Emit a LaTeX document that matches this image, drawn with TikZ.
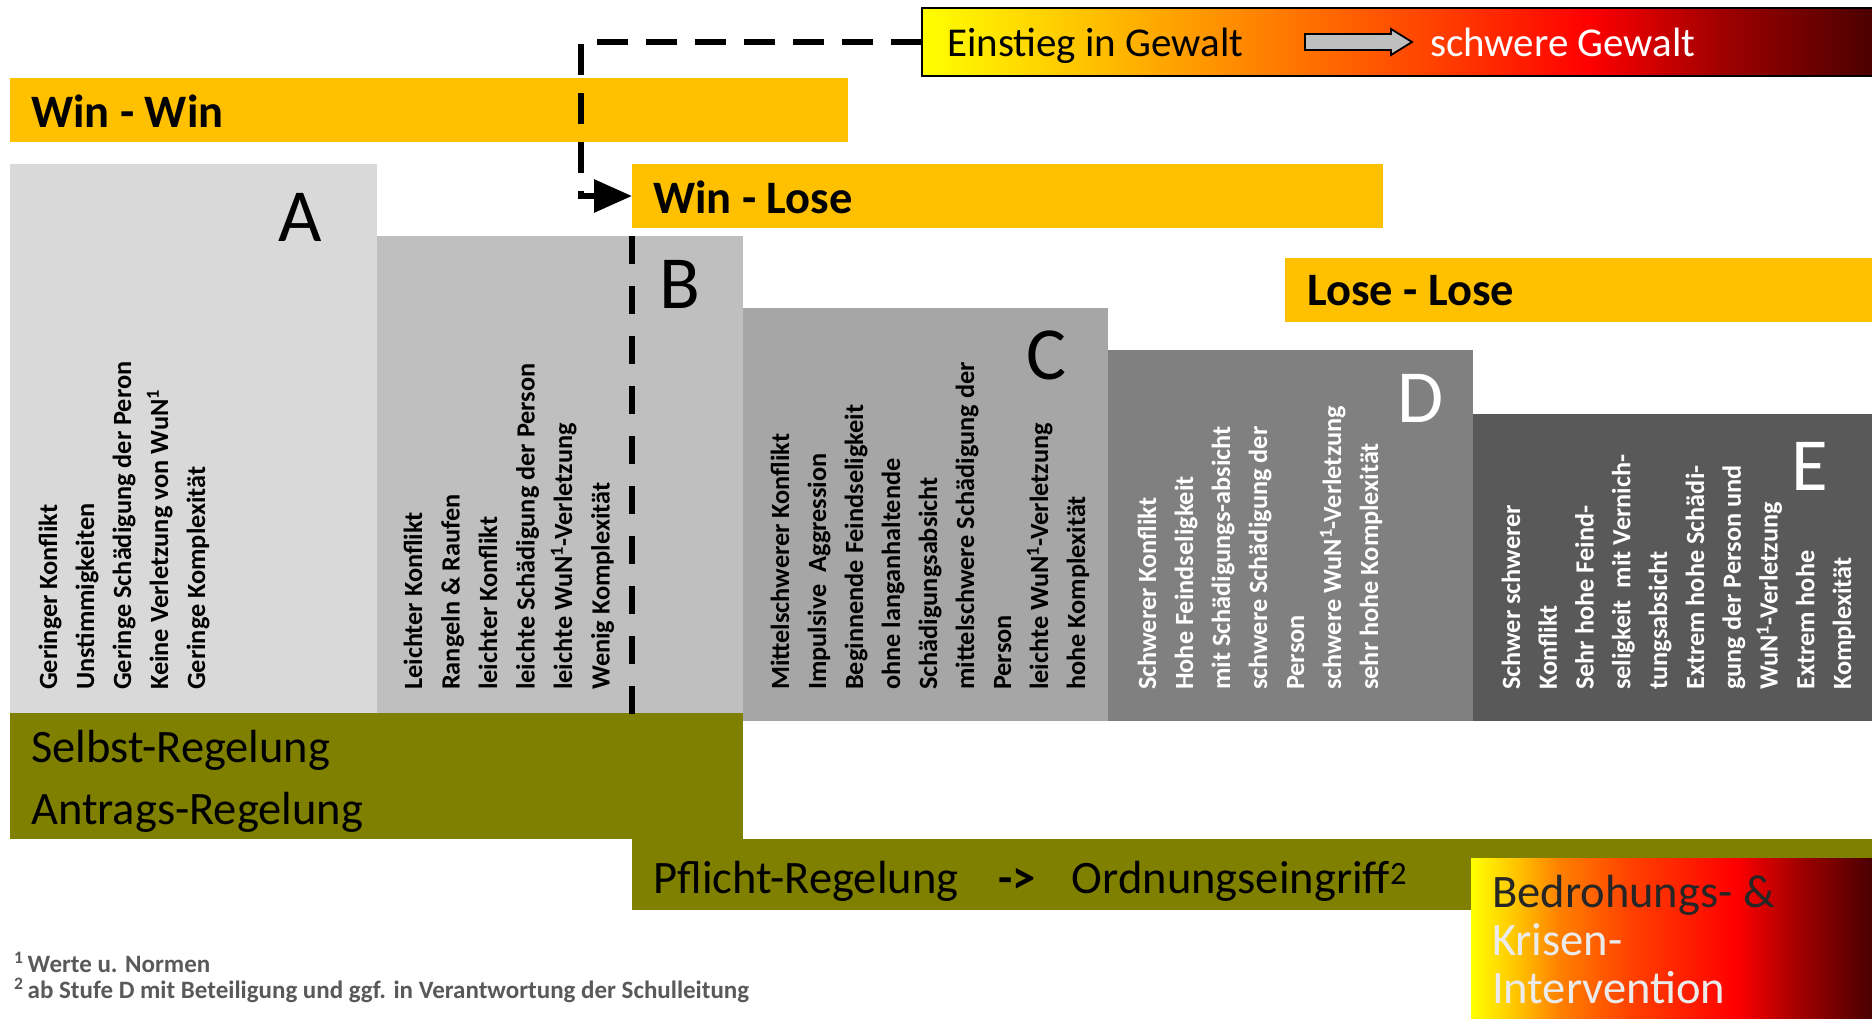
\documentclass[tikz,border=0pt]{standalone}
\usepackage{fontspec}
\setmainfont{Carlito}
\usetikzlibrary{arrows.meta}
\definecolor{gold}{HTML}{FFC000}
\definecolor{olivebar}{HTML}{808000}
\definecolor{gA}{HTML}{D9D9D9}
\definecolor{gB}{HTML}{BFBFBF}
\definecolor{gC}{HTML}{A6A6A6}
\definecolor{gD}{HTML}{808080}
\definecolor{gE}{HTML}{595959}
\definecolor{footgray}{HTML}{595959}
\definecolor{lightgray2}{HTML}{EBEBEB}
\definecolor{vY}{HTML}{FFFF00}
\definecolor{vO1}{HTML}{FFC000}
\definecolor{vO2}{HTML}{FF8000}
\definecolor{vO3}{HTML}{FF4000}
\definecolor{vR}{HTML}{FF0000}
\definecolor{vD1}{HTML}{A00000}
\definecolor{vD2}{HTML}{4A0000}
\pgfdeclarehorizontalshading{violence}{100bp}{color(0bp)=(vY); color(25bp)=(vY); color(34bp)=(vO1); color(43bp)=(vO2); color(52bp)=(vO3); color(60bp)=(vR); color(67bp)=(vD1); color(75bp)=(vD2); color(100bp)=(vD2)}
\pgfdeclarehorizontalshading{crisis}{100bp}{color(0bp)=(vY); color(25bp)=(vY); color(31bp)=(vO1); color(36bp)=(vO2); color(45bp)=(vO3); color(58bp)=(vR); color(66bp)=(vD1); color(75bp)=(vD2); color(100bp)=(vD2)}
\tikzset{
  rectbox/.style={inner sep=0, outer sep=0, anchor=north west},
  goldbar/.style={rectbox, fill=gold},
  olivebox/.style={rectbox, fill=olivebar},
  barlabel/.style={anchor=west, inner sep=0, font=\bfseries\fontsize{46.5}{46.5}\selectfont},
  reglabel/.style={anchor=west, inner sep=0, font=\fontsize{46.5}{46.5}\selectfont},
  crisislabel/.style={anchor=base west, inner sep=0, font=\fontsize{46.5}{46.5}\selectfont},
  violabel/.style={anchor=base west, inner sep=0, font=\fontsize{41}{41}\selectfont},
  letter/.style={inner sep=0, font=\fontsize{75}{75}\selectfont},
  boxtxt/.style={rotate=90, anchor=base west, inner sep=0, font=\bfseries\fontsize{26.3}{37}\selectfont},
  foot/.style={anchor=west, inner sep=0, text=footgray, font=\bfseries\fontsize{25}{25}\selectfont},
  dashone/.style={line width=6pt, dash pattern=on 31pt off 18pt},
  dashtwo/.style={line width=6pt, dash pattern=on 28pt off 22pt},
  grayarrow/.style={draw=black, line width=1.8pt, fill=gB, line join=miter}
}
\begin{document}
\begin{tikzpicture}[x=1pt,y=-1pt]
\useasboundingbox[fill=white] (0,0) rectangle (1872,1018);
% stage boxes
\node[rectbox, fill=gA, minimum width=367, minimum height=560] (bA) at (10,164) {};
\node[rectbox, fill=gB, minimum width=366, minimum height=485] (bB) at (377,236) {};
\node[rectbox, fill=gC, minimum width=365, minimum height=413] (bC) at (743,308) {};
\node[rectbox, fill=gD, minimum width=365, minimum height=371] (bD) at (1108,350) {};
\node[rectbox, fill=gE, minimum width=399, minimum height=307] (bE) at (1473,414) {};
% gold bars
\node[goldbar, minimum width=838, minimum height=64] (ww) at (10,78) {};
\node[goldbar, minimum width=751, minimum height=64] (wl) at (632,164) {};
\node[goldbar, minimum width=587, minimum height=64] (ll) at (1285,258) {};
\node[barlabel] (tww) at (31,111) {Win - Win};
\node[barlabel] (twl) at (653,197) {Win - Lose};
\node[barlabel] (tll) at (1307,291) {Lose - Lose};
% violence gradient box
\node[rectbox, draw=black, line width=1.8pt, shade, shading=violence, minimum width=952, minimum height=68] (ein) at (922,8) {};
\node[violabel] (tein) at (947,56) {Einstieg in Gewalt};
\draw[grayarrow] (1305,34) -- (1391,34) -- (1391,29) -- (1412,42) -- (1391,55) -- (1391,50) -- (1305,50) -- cycle;
\node[violabel, text=white] (tsg) at (1430,56) {schwere Gewalt};
% letters
\node[letter] (lA) at (300,217) {A};
\node[letter] (lB) at (680,284) {B};
\node[letter] (lC) at (1046,355) {C};
\node[letter, text=white] (lD) at (1421,398) {D};
\node[letter, text=white] (lE) at (1810,466) {E};
% box texts
\foreach \t [count=\i from 0] in {Geringer Konflikt, Unstimmigkeiten, Geringe Schädigung der Peron, Keine Verletzung von WuN\textsuperscript{1}, Geringe Komplexität}
  \node[boxtxt] (tA\i) at ({57+37*\i},690) {\t};
\foreach \t [count=\i from 0] in {Leichter Konflikt, Rangeln \& Raufen, leichter Konflikt, leichte Schädigung der Person, leichte WuN\textsuperscript{1}-Verletzung, Wenig Komplexität}
  \node[boxtxt] (tB\i) at ({422+37.5*\i},690) {\t};
\foreach \t [count=\i from 0] in {Mittelschwerer Konflikt, Impulsive\ \ Aggression, Beginnende Feindseligkeit, ohne langanhaltende, Schädigungsabsicht, mittelschwere Schädigung der, Person, leichte WuN\textsuperscript{1}-Verletzung, hohe Komplexität}
  \node[boxtxt] (tC\i) at ({789+37*\i},690) {\t};
\foreach \t [count=\i from 0] in {Schwerer Konflikt, Hohe Feindseligkeit, mit Schädigungs-absicht, schwere Schädigung der, Person, schwere WuN\textsuperscript{1}-Verletzung, sehr hohe Komplexität}
  \node[boxtxt, text=white] (tD\i) at ({1156+37*\i},690) {\t};
\foreach \t [count=\i from 0] in {Schwer schwerer, Konflikt, Sehr hohe Feind-, seligkeit\ \ mit Vernich-, tungsabsicht, Extrem hohe Schädi-, gung der Person und, WuN\textsuperscript{1}-Verletzung, Extrem hohe, Komplexität}
  \node[boxtxt, text=white] (tE\i) at ({1520+36.8*\i},690) {\t};
% regulation areas
\node[olivebox, minimum width=733, minimum height=126] (sr) at (10,713) {};
\node[olivebox, minimum width=1240, minimum height=71] (pr) at (632,839) {};
\node[reglabel] (tsr) at (31,750) {Selbst-Regelung};
\node[reglabel] (tar) at (31,812) {Antrags-Regelung};
\node[reglabel] (tpr) at (653,881) {Pflicht-Regelung\hspace{40pt}\textbf{->}\hspace{36pt}Ordnungseingriff\textsuperscript{2}};
% crisis box
\node[rectbox, shade, shading=crisis, minimum width=401, minimum height=160] (kr) at (1471,858) {};
\node[crisislabel, text=black!85] (tk1) at (1492,907) {Bedrohungs- \&};
\node[crisislabel, text=lightgray2] (tk2) at (1492,955) {Krisen-};
\node[crisislabel, text=lightgray2] (tk3) at (1492,1003) {Intervention};
% footnotes
\node[foot] (f1) at (14,962) {\textsuperscript{1}\,Werte u. Normen};
\node[foot] (f2) at (14,990) {\textsuperscript{2}\,ab Stufe D mit Beteiligung und ggf. in Verantwortung der Schulleitung};
% dashed connector
\coordinate (cx) at (581,196);
\draw[dashone, -{Triangle[length=38pt,width=32pt]}] (ein.west) -| (cx) -- (wl.west);
% dashed divider
\coordinate (d2a) at (632,236);
\coordinate (d2b) at (632,721);
\draw[dashtwo] (d2a) -- (d2b);
\end{tikzpicture}
\end{document}
